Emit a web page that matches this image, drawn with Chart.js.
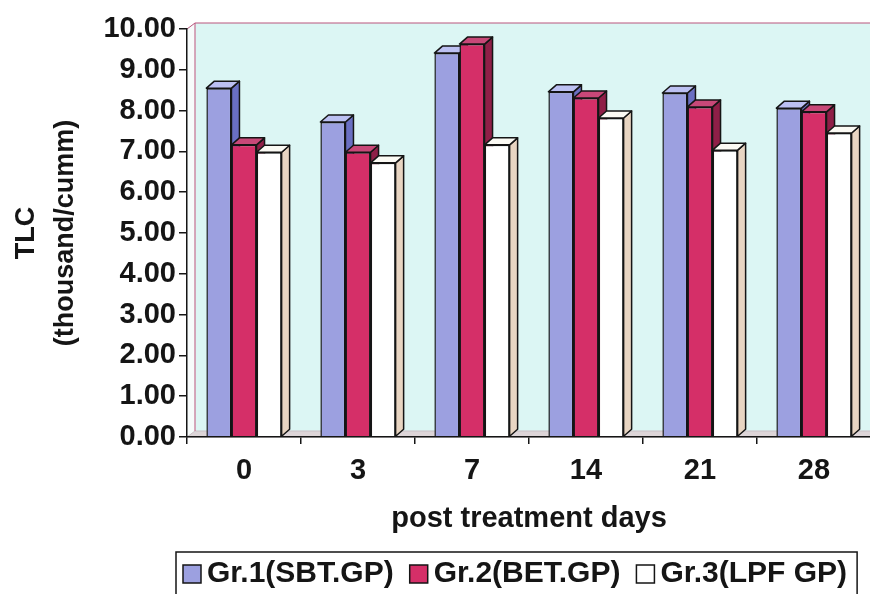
<!DOCTYPE html>
<html>
<head>
<meta charset="utf-8">
<script src="https://cdn.jsdelivr.net/npm/chart.js@4.4.0/dist/chart.umd.min.js"></script>
<style>
  html, body { margin: 0; padding: 0; overflow: hidden; background: #fff; }
  #wrap { width: 872px; height: 594px; }
</style>
</head>
<body>
<div id="wrap"><canvas id="tlc"></canvas></div>
<script>
// data
const days = ['0', '3', '7', '14', '21', '28']
const groupNames = ['Gr.1(SBT.GP)', 'Gr.2(BET.GP)', 'Gr.3(LPF GP)']
const gr1 = [8.55, 7.72, 9.41, 8.46, 8.43, 8.06]
const gr2 = [7.16, 6.98, 9.63, 8.31, 8.09, 7.97]
const gr3 = [6.98, 6.72, 7.16, 7.82, 7.03, 7.45]
const yTitle = ['TLC', '(thousand/cumm)']
const xTitle = 'post treatment days'

// face colours for the 3d look
const frontColors = ['#9ca0e0', '#d52f68', '#ffffff']
const sideColors = ['#6a6fc2', '#8f1f47', '#e8d5c2']
const topColors = ['#bcc0f2', '#c84878', '#fbfaf4']

const FONT = '"Liberation Sans", Arial, sans-serif'
const INK = '#151515'
const DX = 8
const DY = -7

Chart.defaults.font.family = FONT
Chart.defaults.font.weight = 'bold'
Chart.defaults.color = INK

const face = (ctx, pts, fill) => {
  ctx.beginPath()
  ctx.moveTo(pts[0][0], pts[0][1])
  pts.slice(1).forEach(p => ctx.lineTo(p[0], p[1]))
  ctx.closePath()
  ctx.fillStyle = fill
  ctx.fill()
  ctx.stroke()
}

// back wall, side wall and floor
const wallPlugin = {
  id: 'wall',
  beforeDraw(chart) {
    const { ctx, chartArea: a } = chart
    ctx.save()
    ctx.fillStyle = '#dcf6f4'
    ctx.fillRect(a.left + DX, a.top - 6, a.right - a.left, a.bottom - a.top)
    ctx.lineWidth = 1
    ctx.strokeStyle = '#f2f8f8'
    face(ctx, [[a.left, a.top], [a.left + DX, a.top - 6], [a.left + DX, a.bottom - 6], [a.left, a.bottom]], '#f7fbfb')
    ctx.strokeStyle = '#c8bfc4'
    face(ctx, [[a.left, a.bottom], [a.left + DX, a.bottom - 6], [a.right + DX, a.bottom - 6], [a.right, a.bottom]], '#ddd5d8')
    ctx.strokeStyle = '#b9557d'
    ctx.beginPath()
    ctx.moveTo(a.left, a.top)
    ctx.lineTo(a.left + DX, a.top - 6)
    ctx.lineTo(a.right + DX, a.top - 6)
    ctx.moveTo(a.left + DX, a.top - 6)
    ctx.lineTo(a.left + DX, a.bottom - 6)
    ctx.stroke()
    ctx.restore()
  }
}

// redraw bars category by category so the depth faces overlap correctly
const bars3dPlugin = {
  id: 'bars3d',
  beforeDatasetsDraw(chart) {
    const ctx = chart.ctx
    const metas = chart.data.datasets.map((ds, i) => chart.getDatasetMeta(i))
    ctx.save()
    days.forEach((day, i) => {
      metas.forEach((meta, d) => {
        const bar = meta.data[i]
        const { x, y, base, width } = bar.getProps(['x', 'y', 'base', 'width'])
        const l = x - width / 2
        const r = x + width / 2
        bar.draw(ctx)
        ctx.lineWidth = 1.5
        ctx.lineJoin = 'round'
        ctx.strokeStyle = INK
        face(ctx, [[r, y], [r + DX, y + DY], [r + DX, base + DY], [r, base]], sideColors[d])
        face(ctx, [[l, y], [l + DX, y + DY], [r + DX, y + DY], [r, y]], topColors[d])
      })
    })
    ctx.restore()
    return false
  }
}

// boxed legend at the bottom
const legendPlugin = {
  id: 'boxLegend',
  afterDraw(chart) {
    const ctx = chart.ctx
    const cy = 574
    let x = 183
    ctx.save()
    ctx.font = 'bold 30px ' + FONT
    ctx.textBaseline = 'middle'
    ctx.lineWidth = 1.5
    ctx.strokeStyle = INK
    chart.data.datasets.forEach((ds, d) => {
      ctx.fillStyle = frontColors[d]
      ctx.fillRect(x, cy - 9, 18, 18)
      ctx.strokeRect(x, cy - 9, 18, 18)
      ctx.fillStyle = INK
      ctx.fillText(ds.label, x + 24, cy)
      x += 24 + ctx.measureText(ds.label).width + 16
    })
    ctx.strokeRect(176, 552, x - 16 + 10 - 176, 60)
    ctx.restore()
  }
}

const series = [gr1, gr2, gr3]

new Chart(document.getElementById('tlc'), {
  type: 'bar',
  data: {
    labels: days,
    datasets: series.map((values, d) => ({
      label: groupNames[d],
      data: values,
      backgroundColor: frontColors[d],
      borderColor: INK,
      borderWidth: 1.5
    }))
  },
  options: {
    responsive: true,
    maintainAspectRatio: false,
    animation: false,
    layout: {
      autoPadding: false,
      padding: { top: 29, right: 1, bottom: 42, left: 0 }
    },
    datasets: {
      bar: { categoryPercentage: 0.66, barPercentage: 1.0 }
    },
    plugins: {
      legend: { display: false },
      tooltip: { enabled: false }
    },
    scales: {
      x: {
        afterFit: scale => { scale.height = 115 },
        grid: { drawOnChartArea: false, tickLength: 7, color: INK, lineWidth: 1.5 },
        border: { color: INK, width: 1.5, z: 1 },
        ticks: { font: { size: 29 }, padding: 10 },
        title: { display: true, text: xTitle, font: { size: 29 }, padding: { top: 0, bottom: 16 } }
      },
      y: {
        min: 0,
        max: 10,
        afterFit: scale => { scale.width = 187 },
        grid: { drawOnChartArea: false, tickLength: 8, color: INK, lineWidth: 1.5 },
        border: { color: INK, width: 1.5, z: 1 },
        ticks: {
          stepSize: 1,
          padding: 3,
          font: { size: 29 },
          callback: v => v.toFixed(2)
        },
        title: {
          display: true,
          text: yTitle,
          font: { size: 27, lineHeight: 1.45 },
          padding: { top: 7, bottom: 0 }
        }
      }
    }
  },
  plugins: [wallPlugin, bars3dPlugin, legendPlugin]
})
</script>
</body>
</html>
